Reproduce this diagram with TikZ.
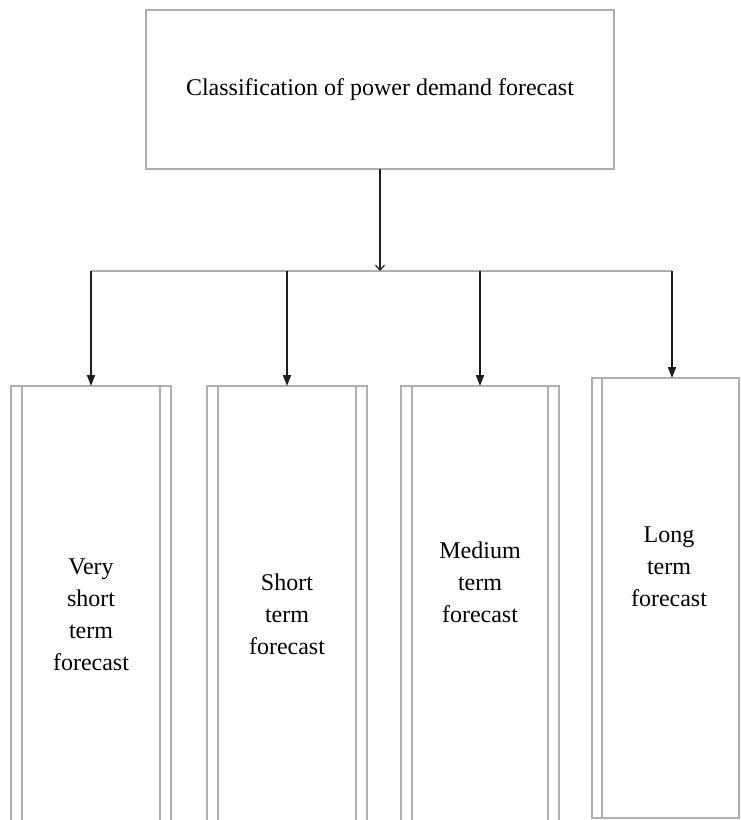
\documentclass[tikz,border=0pt]{standalone}
\usepackage{fontspec}
\setmainfont{Liberation Serif}
\usetikzlibrary{arrows.meta}
\definecolor{boxgray}{RGB}{175,175,175}
\definecolor{arrowdark}{RGB}{30,30,30}
\begin{document}
\begin{tikzpicture}[x=1pt,y=-1pt,
  frame/.style={draw=boxgray,line width=1.3pt,inner sep=0pt,outer sep=0pt,anchor=north west},
  boxline/.style={draw=boxgray,line width=1.3pt},
  txt/.style={align=center,inner sep=0pt,font=\fontsize{24}{32}\selectfont},
  busline/.style={draw=boxgray,line width=1.3pt},
  branch/.style={draw=arrowdark,line width=1.7pt,-{Triangle[length=11pt,width=8pt]}},
  mainarrow/.style={draw=arrowdark,line width=1.2pt,-{Straight Barb[length=5pt,width=9pt]}}]
\clip (0,0) rectangle (740,820);
\fill[white] (0,0) rectangle (740,820);
% top box
\node[frame,minimum width=468pt,minimum height=159pt] (top) at (146,10) {};
\node[txt] (toptext) at (top.center) {Classification of power demand forecast};
% lower boxes
\node[frame,minimum width=160pt,minimum height=460pt] (b1) at (11,386) {};
\node[frame,minimum width=160pt,minimum height=460pt] (b2) at (207,386) {};
\node[frame,minimum width=158pt,minimum height=460pt] (b3) at (401,386) {};
\node[frame,minimum width=147pt,minimum height=440pt] (b4) at (592,378) {};
% inner double lines
\draw[boxline] ([xshift=11pt]b1.north west) -- ([xshift=11pt]b1.south west);
\draw[boxline] ([xshift=-11pt]b1.north east) -- ([xshift=-11pt]b1.south east);
\draw[boxline] ([xshift=11pt]b2.north west) -- ([xshift=11pt]b2.south west);
\draw[boxline] ([xshift=-11pt]b2.north east) -- ([xshift=-11pt]b2.south east);
\draw[boxline] ([xshift=11pt]b3.north west) -- ([xshift=11pt]b3.south west);
\draw[boxline] ([xshift=-11pt]b3.north east) -- ([xshift=-11pt]b3.south east);
\draw[boxline] ([xshift=10pt]b4.north west) -- ([xshift=10pt]b4.south west);
% texts
\node[txt] (t1) at (91,615) {Very\\short\\term\\forecast};
\node[txt] (t2) at (287,614) {Short\\term\\forecast};
\node[txt] (t3) at (480,582) {Medium\\term\\forecast};
\node[txt] (t4) at (669,567) {Long\\term\\forecast};
% connectors
\coordinate (busL) at (91,271);
\coordinate (busR) at (672,271);
\coordinate (busM) at (top.south |- busL);
\draw[busline] (busL) -- (busR);
\draw[mainarrow] (top.south) -- (busM);
\draw[branch] (busL) -- (b1.north);
\draw[branch] (b2.north |- busL) -- (b2.north);
\draw[branch] (b3.north |- busL) -- (b3.north);
\draw[branch] (busR) -- (busR |- b4.north);
\end{tikzpicture}
\end{document}
